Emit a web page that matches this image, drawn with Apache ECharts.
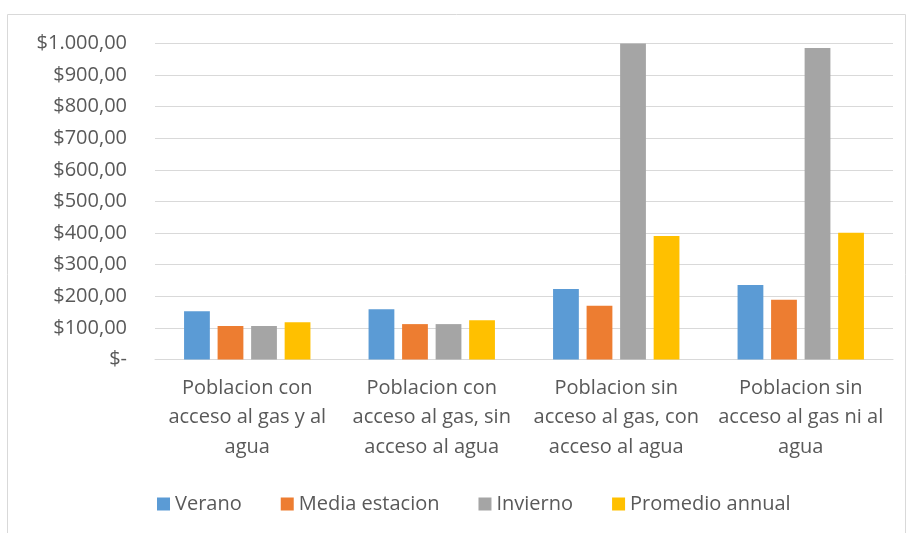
<!DOCTYPE html>
<html><head><meta charset="utf-8">
<script src="https://cdn.jsdelivr.net/npm/echarts@6/dist/echarts.min.js"></script>
<style>html,body{margin:0;padding:0;background:#fff}#c{width:906px;height:533px}</style>
</head><body><div id="c"></div>
<script>
const categories = ["Poblacion con\nacceso al gas y al\nagua", "Poblacion con\nacceso al gas, sin\nacceso al agua", "Poblacion sin\nacceso al gas, con\nacceso al agua", "Poblacion sin\nacceso al gas ni al\nagua"];
const seriesNames = ["Verano", "Media estacion", "Invierno", "Promedio annual"];
const verano = [153, 159, 223, 236];
const mediaEstacion = [106, 112, 170, 189];
const invierno = [106, 112, 1005, 986];
const promedioAnnual = [118, 124, 391, 401];
const colors = ["#5B9BD5", "#ED7D31", "#A5A5A5", "#FFC000"];

function fmt(v) {
  if (v === 0) return "$-";
  const s = String(Math.round(v)).replace(/\B(?=(\d{3})+(?!\d))/g, ".");
  return "$" + s + ",00";
}
const font = "Open Sans";
const chart = echarts.init(document.getElementById("c"));
const data = [verano, mediaEstacion, invierno, promedioAnnual];
chart.setOption({
  animation: false,
  textStyle: { fontFamily: font },
  graphic: [{ type: "rect", shape: { x: 7.5, y: 14.5, width: 898, height: 530 }, style: { fill: "none", stroke: "#d9d9d9", lineWidth: 1 }, z: -1 }],
  grid: { left: 155, right: 13, top: 43.5, bottom: 173.5, containLabel: false },
  legend: {
    bottom: 14, left: 152,
    itemWidth: 13, itemHeight: 13, itemGap: 39, icon: "rect",
    textStyle: { fontSize: 20, color: "#595959", fontFamily: font },
    data: seriesNames
  },
  xAxis: {
    type: "category", data: categories,
    axisLine: { lineStyle: { color: "#d9d9d9", width: 1 } },
    axisTick: { show: false },
    axisLabel: { fontSize: 20, color: "#595959", lineHeight: 29.5, margin: 14, interval: 0, fontFamily: font }
  },
  yAxis: {
    type: "value", min: 0, max: 1000, interval: 100,
    axisLine: { show: false }, axisTick: { show: false },
    splitLine: { lineStyle: { color: "#d9d9d9", width: 1 } },
    axisLabel: { fontSize: 20, color: "#595959", margin: 28, formatter: fmt, fontFamily: font }
  },
  series: data.map((d, i) => ({
    name: seriesNames[i], type: "bar", data: d,
    itemStyle: { color: colors[i] },
    barGap: "30%", barCategoryGap: "31.5%"
  }))
});
</script></body></html>
